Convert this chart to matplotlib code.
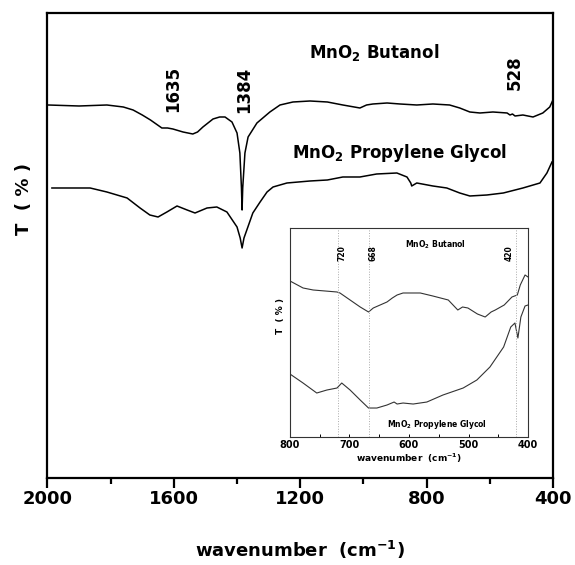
import numpy as np
import matplotlib
matplotlib.use("Agg")
import matplotlib.pyplot as plt
from matplotlib.ticker import MultipleLocator, NullLocator

# main spectra (wavenumber, transmittance in arbitrary units)
wn_but = [1998, 1900, 1812, 1760, 1729, 1700, 1674, 1638, 1620, 1603, 1571, 1540, 1525, 1508, 1476,
          1455, 1438, 1416, 1400, 1391, 1386, 1384, 1382, 1375, 1365, 1337, 1296, 1264, 1223,
          1169, 1114, 1065, 1011, 990, 970, 925, 884, 831, 780, 727, 695, 663, 631, 590,
          545, 536, 528, 520, 495, 463, 432, 410, 400]
t_but = [373, 372, 373, 371, 368, 363, 358, 350, 350, 349, 346, 344, 346, 351, 359,
         361, 361, 356, 345, 325, 290, 268, 290, 325, 341, 355, 366, 373, 376,
         377, 376, 373, 370, 373, 374, 375, 374, 373, 374, 373, 370, 366, 365, 366,
         365, 363, 364, 362, 363, 361, 365, 371, 378]

wn_pg = [1986, 1865, 1812, 1748, 1707, 1676, 1650, 1622, 1590, 1558, 1533, 1495, 1464, 1432,
         1400, 1390, 1384, 1378, 1369, 1350, 1327, 1305, 1286, 1242, 1169, 1114, 1065,
         1011, 958, 894, 862, 850, 847, 831, 780, 736, 695, 663, 609, 557, 495, 441, 419, 403]
t_pg = [290, 290, 286, 280, 270, 263, 261, 266, 272, 268, 265, 270, 271, 266,
        251, 240, 230, 240, 248, 265, 276, 286, 291, 295, 297, 298, 301,
        301, 304, 305, 301, 295, 292, 295, 292, 290, 285, 282, 283, 285, 290, 295, 305, 316]

# inset spectra 800-400
wn_in_but = [800, 778, 761, 721, 716, 699, 682, 668, 660, 637, 628, 620, 610, 581, 560, 534,
             518, 510, 501, 485, 472, 462, 455, 440, 427, 418, 413, 405, 400]
t_in_but = [156, 149, 147, 145, 144, 137, 130, 125, 129, 135, 139, 142, 144, 144, 141, 137,
            127, 130, 129, 123, 120, 125, 127, 132, 140, 142, 152, 162, 160]

wn_in_pg = [800, 778, 755, 738, 721, 713, 699, 682, 668, 654, 637, 625, 620, 610, 593, 570,
            543, 509, 486, 464, 441, 429, 422, 417, 412, 405, 400]
t_in_pg = [63, 54, 44, 47, 49, 54, 47, 37, 29, 29, 32, 35, 33, 34, 33, 35,
           42, 49, 57, 70, 90, 110, 114, 99, 120, 131, 132]

peaks_main = [1635, 1384, 528]
peaks_inset = [720, 668, 420]

fig = plt.figure(figsize=(5.75, 5.65), dpi=100)
ax = fig.add_axes([0.0826, 0.154, 0.879, 0.823])
ax.plot(wn_but, t_but, color="black", lw=1.1)
ax.plot(wn_pg, t_pg, color="black", lw=1.1)
ax.set_xlim(2000, 400)
ax.set_ylim(0, 465)
ax.xaxis.set_major_locator(MultipleLocator(400))
ax.xaxis.set_minor_locator(MultipleLocator(200))
ax.yaxis.set_major_locator(NullLocator())
ax.tick_params(axis="x", which="major", direction="out", length=7, width=1.6, pad=2,
               labelsize=13)
ax.tick_params(axis="x", which="minor", direction="out", length=4, width=1.6)
for lab in ax.get_xticklabels():
    lab.set_fontweight("bold")
for s in ax.spines.values():
    s.set_linewidth(1.6)
ax.set_xlabel(r"wavenumber  (cm$^{\mathbf{-1}}$)", fontsize=13, fontweight="bold", labelpad=22)
ax.set_ylabel("T  ( % )", fontsize=13, fontweight="bold")
ax.yaxis.set_label_coords(-0.029, 0.6)

# peak labels, drawn just right of each band
label_x = {1635: 1602, 1384: 1377, 528: 522}
label_y = {1635: 366, 1384: 365, 528: 388}
for p in peaks_main:
    ax.text(label_x[p], label_y[p], str(p), rotation=90, ha="center",
            va="bottom", fontsize=12, fontweight="bold")
ax.text(967, 420, r"MnO$_\mathbf{2}$ Butanol", ha="center", va="baseline", fontsize=12,
        fontweight="bold")
ax.text(884, 320, r"MnO$_\mathbf{2}$ Propylene Glycol", ha="center", va="baseline",
        fontsize=12, fontweight="bold")

# inset
ins = fig.add_axes([0.5043, 0.2265, 0.414, 0.370])
ins.plot(wn_in_but, t_in_but, color="#333333", lw=0.8)
ins.plot(wn_in_pg, t_in_pg, color="#333333", lw=0.8)
for p in peaks_inset:
    ins.axvline(p, color="#aaaaaa", lw=0.7, ls=":")
ins.set_xlim(800, 400)
ins.set_ylim(0, 209)
ins.xaxis.set_major_locator(MultipleLocator(100))
ins.xaxis.set_minor_locator(MultipleLocator(50))
ins.yaxis.set_major_locator(NullLocator())
ins.tick_params(axis="x", which="both", direction="in", length=2.5, width=0.7, pad=2,
                labelsize=7)
for lab in ins.get_xticklabels():
    lab.set_fontweight("bold")
for s in ins.spines.values():
    s.set_linewidth(0.8)
    s.set_color("#333333")
ins.set_xlabel(r"wavenumber  (cm$^{\mathbf{-1}}$)", fontsize=6.5, fontweight="bold", labelpad=1)
ins.set_ylabel("T  ( % )", fontsize=6.5, fontweight="bold")
ins.yaxis.set_label_coords(-0.02, 0.58)
inset_lab_x = {720: 713, 668: 660, 420: 431}
for p in peaks_inset:
    ins.text(inset_lab_x[p], 176, str(p), rotation=90, ha="center", va="bottom", fontsize=5.5,
             fontweight="bold")
ins.text(555, 189, r"MnO$_\mathbf{2}$ Butanol", ha="center", va="baseline", fontsize=5.5,
         fontweight="bold")
ins.text(553, 10, r"MnO$_\mathbf{2}$ Propylene Glycol", ha="center", va="baseline",
         fontsize=5.5, fontweight="bold")

fig.savefig("out.png", dpi=100)
